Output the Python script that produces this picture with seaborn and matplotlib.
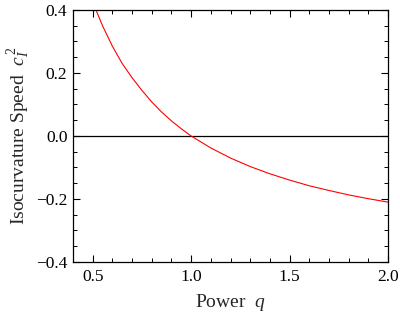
import numpy as np
import pandas as pd
import matplotlib
matplotlib.use("Agg")
import matplotlib.pyplot as plt
from matplotlib.ticker import MultipleLocator
import seaborn as sns

# ── data ──────────────────────────────────────────────────────────────────────
power_q = [0.50, 0.55, 0.60, 0.65, 0.70, 0.75, 0.80, 0.85, 0.90, 0.95, 1.00,
           1.10, 1.20, 1.30, 1.40, 1.50, 1.60, 1.70, 1.80, 1.90, 2.00]
iso_speed = [0.425, 0.350, 0.285, 0.230, 0.185, 0.145, 0.108, 0.076, 0.048,
             0.023, 0.000, -0.038, -0.070, -0.097, -0.120, -0.140, -0.158,
             -0.173, -0.187, -0.199, -0.210]

df = pd.DataFrame({"q": power_q, "c2": iso_speed})

sns.set_theme(style="ticks")
plt.rcParams.update({
    "font.family":        ["Liberation Serif", "DejaVu Serif"],
    "mathtext.fontset":   "custom",
    "mathtext.rm":        "Liberation Serif",
    "mathtext.it":        "Liberation Serif:italic",
    "axes.edgecolor":     "black",
    "axes.linewidth":     0.9,
    "xtick.direction":    "in",
    "ytick.direction":    "in",
    "xtick.top":          True,
    "ytick.right":        True,
    "xtick.color":        "black",
    "ytick.color":        "black",
    "xtick.major.size":   5,
    "ytick.major.size":   5,
    "xtick.minor.size":   2.8,
    "ytick.minor.size":   2.8,
    "xtick.major.width":  0.8,
    "ytick.major.width":  0.8,
    "xtick.minor.width":  0.7,
    "ytick.minor.width":  0.7,
})

fig = plt.figure(figsize=(4.0, 3.12), dpi=100)
ax = fig.add_axes([0.1825, 0.1603, 0.7875, 0.8077])

ax.axhline(0, color="black", lw=0.9, zorder=1)
sns.lineplot(data=df, x="q", y="c2", color="#ff0000", lw=0.8, ax=ax, zorder=2)

ax.set_xlim(0.4, 2.0)
ax.set_ylim(-0.4, 0.4)
ax.xaxis.set_major_locator(MultipleLocator(0.5))
ax.xaxis.set_minor_locator(MultipleLocator(0.1))
ax.yaxis.set_major_locator(MultipleLocator(0.2))
ax.yaxis.set_minor_locator(MultipleLocator(0.05))
ax.xaxis.set_major_formatter(plt.FuncFormatter(lambda v, p: f"{v:.1f}"))
ax.yaxis.set_major_formatter(plt.FuncFormatter(
    lambda v, p: f"{v:.1f}".replace("-", "\u2212")))
ax.tick_params(axis="x", which="major", labelsize=12.5, pad=5)
ax.tick_params(axis="y", which="major", labelsize=12.5, pad=4)

ax.set_xlabel(r"Power  $q$", fontsize=14, labelpad=5)
ax.set_ylabel(r"Isocurvature Speed  $c_I^{\,2}$", fontsize=14, labelpad=3)

fig.savefig("out.png", dpi=100)
plt.close(fig)
